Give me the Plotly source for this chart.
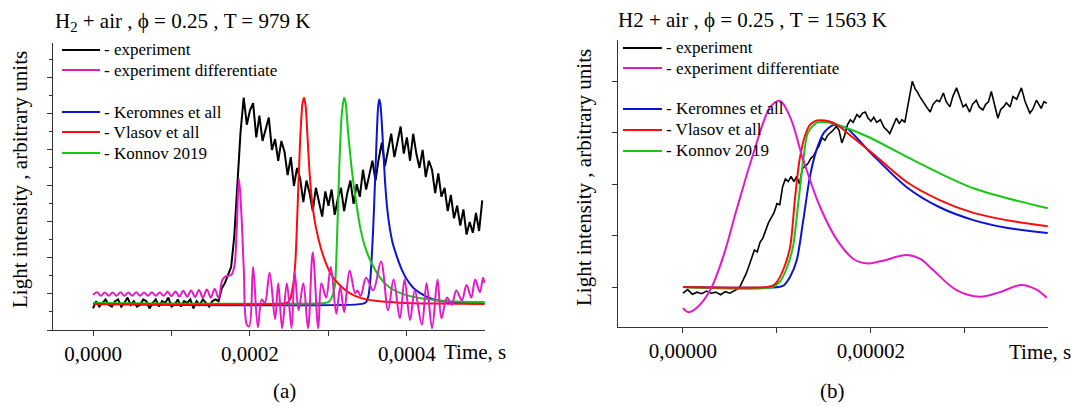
import plotly.graph_objects as go

# ---------------- data: panel (a) ----------------
# experiment (black), sampled every 4 microseconds from t = 0
exp_a_step_us = 4
exp_a = [1.2, 1.6, 1.3, 1.5, 1.7, 1.4, 1.3, 1.6, 1.7, 1.3,
         1.5, 1.8, 1.4, 1.6, 1.3, 1.4, 1.7, 1.6, 1.2, 1.5,
         1.7, 1.3, 1.6, 1.5, 1.8, 1.3, 1.4, 1.7, 1.3, 1.6,
         1.5, 1.7, 1.2, 1.6, 1.4, 1.7, 1.5, 1.3, 1.6, 1.7,
         1.6, 2.3, 2.6, 3.0, 3.5, 5.2, 8.3, 11.0, 12.9, 11.4,
         12.2, 12.6, 10.7, 11.9, 10.5, 11.2, 11.8, 10.0, 10.6, 9.4,
         10.5, 9.9, 8.6, 9.6, 8.0, 9.0, 8.4, 7.1, 8.3, 7.6,
         6.6, 7.9, 7.0, 6.3, 7.7, 6.9, 7.8, 6.4, 7.3, 7.9,
         6.6, 7.6, 8.3, 7.0, 8.1, 7.4, 8.9, 7.8, 8.6, 9.4,
         8.3, 9.5, 10.4, 9.1, 10.0, 10.9, 9.6, 10.5, 11.3, 9.8,
         10.7, 9.4, 10.9, 9.8, 9.0, 10.0, 8.5, 9.4, 8.9, 7.6,
         8.7, 7.4, 7.9, 6.6, 7.5, 6.2, 6.9, 5.8, 6.7, 5.3,
         6.0, 5.4, 6.5, 5.5, 7.2]
exp_a_t = [i * exp_a_step_us for i in range(len(exp_a))]

diff_a_t = [0, 5, 10, 15, 20, 25, 30, 35, 40, 45, 50, 55, 60, 65, 70, 75, 80, 85, 90, 95,
            100, 105, 110, 115, 120, 125, 130, 135, 140, 145, 150, 155, 160, 165, 170, 176,
            180, 183, 186, 189, 192, 196, 199, 204, 210, 215, 219, 225, 232, 236, 241, 247,
            253, 257, 262, 268, 274, 280, 287, 291, 297, 303, 310, 315, 320, 327, 334, 337,
            341, 348, 357, 367, 376, 383, 391, 397, 404, 410, 419, 425, 432, 439, 444, 451,
            457, 463, 470, 476, 482, 487, 493, 497, 499]
diff_a = [1.95, 2.1, 1.9, 2.08, 1.9, 2.08, 1.9, 2.1, 1.9, 2.08, 1.9, 2.1, 1.9, 2.08, 1.9,
          2.1, 1.9, 2.08, 1.9, 2.12, 1.88, 2.14, 1.86, 2.18, 1.85, 2.2, 1.83, 2.22, 1.8, 2.25,
          1.8, 2.28, 1.78, 2.8, 3.0, 3.05, 3.5, 5.5, 8.4, 6.5, 3.5, 0.3, 0.2, 3.5, 0.15, 1.7,
          1.5, 3.2, 0.6, 2.6, 0.1, 2.6, 0.1, 3.2, 1.1, 2.6, 0.1, 4.3, 0.1, 2.6, 1.8, 3.5, 0.9,
          2.4, 1.0, 3.3, 2.05, 2.2, 1.9, 2.9, 2.2, 3.8, 1.1, 2.8, 0.65, 2.8, 0.55, 2.2, 0.3, 2.6,
          0.1, 2.8, 0.65, 1.8, 1.4, 2.2, 1.65, 2.5, 1.8, 2.8, 2.1, 2.9, 2.6]

ker_a_t = [0, 343, 348, 351, 353, 357, 360, 363, 364.5, 366, 368, 372, 375, 378, 382, 387,
           393, 400, 408, 417, 428, 438, 455, 475, 499]
ker_a = [1.45, 1.45, 1.55, 1.9, 2.6, 5.6, 9.0, 12.2, 12.8, 12.6, 11.5, 8.3, 6.7, 5.7, 4.8,
         4.1, 3.4, 2.8, 2.35, 2.05, 1.8, 1.65, 1.55, 1.5, 1.48]

vla_a_t = [0, 240, 247, 251, 255, 258, 261, 264, 267, 269, 271, 273, 276, 280, 284, 290,
           296, 302, 308, 318, 327, 340, 360, 390, 430, 499]
vla_a = [1.45, 1.45, 1.5, 1.7, 2.5, 3.9, 7.2, 10.6, 12.6, 12.9, 12.4, 11.0, 8.7, 6.8, 5.7,
         4.6, 3.8, 3.2, 2.8, 2.35, 2.05, 1.8, 1.62, 1.52, 1.47, 1.45]

kon_a_t = [0, 295, 300, 304, 308, 311, 314, 317, 320, 322, 325, 329, 332, 336, 340, 346,
           353, 360, 366, 374, 382, 392, 404, 420, 446, 470, 499]
kon_a = [1.5, 1.5, 1.55, 1.8, 2.4, 5.2, 9.3, 12.0, 12.9, 12.6, 11.0, 9.2, 8.1, 6.9, 5.8,
         4.7, 3.9, 3.3, 2.9, 2.5, 2.25, 2.05, 1.88, 1.75, 1.62, 1.57, 1.55]

# ---------------- data: panel (b) ----------------
exp_b_t = [0, 0.5, 1, 1.5, 2, 2.5, 3, 3.5, 4, 4.5, 5, 5.5, 6, 6.3, 6.7, 7.0, 7.3, 7.6, 7.9,
           8.2, 8.5, 8.8, 9.1, 9.4, 9.7, 10.0, 10.3, 10.6, 10.9, 11.2, 11.5, 11.8, 12.1, 12.4,
           12.7, 13.0, 13.3, 13.6, 13.9, 14.2, 14.5, 14.8, 15.1, 15.4, 15.7, 16.0, 16.3, 16.6,
           16.9, 17.2, 17.5, 17.8, 18.1, 18.5, 18.8, 19.1, 19.4, 19.7, 20.0, 20.3, 20.6, 21.0,
           21.4, 21.7, 22.0, 22.4, 22.7, 23.0, 23.3, 23.6, 23.9, 24.2, 24.4, 24.7, 24.9, 25.2,
           25.6, 25.9, 26.3, 26.6, 27.0, 27.3, 27.7, 28.0, 28.4, 28.7, 29.1, 29.4, 29.8, 30.1,
           30.5, 30.8, 31.2, 31.5, 31.9, 32.2, 32.5, 32.8, 33.1, 33.5, 33.8, 34.1, 34.4, 34.8,
           35.1, 35.5, 36.0, 36.4, 36.9, 37.2, 37.6, 38.1, 38.4, 38.7]
exp_b = [-0.12, -0.05, -0.14, -0.1, -0.13, -0.08, -0.12, -0.1, -0.15, -0.09, -0.12, -0.07,
         -0.02, 0.1, 0.25, 0.4, 0.55, 0.72, 0.68, 0.87, 0.95, 1.1, 1.25, 1.35, 1.45, 1.62, 1.6,
         1.95, 2.1, 2.05, 2.15, 2.05, 2.15, 2.0, 2.3, 2.35, 2.4, 2.5, 2.55, 2.66, 2.75, 2.9,
         2.85, 2.95, 3.0, 3.05, 3.12, 3.05, 2.8, 2.95, 3.15, 3.25, 3.2, 3.35, 3.3, 3.38, 3.4,
         3.28, 3.22, 3.3, 3.2, 3.25, 3.1, 3.05, 2.98, 3.15, 3.28, 3.18, 3.25, 3.2, 3.5, 3.75,
         4.0, 3.85, 3.8, 3.7, 3.58, 3.5, 3.4, 3.55, 3.63, 3.6, 3.77, 3.6, 3.5, 3.7, 3.87, 3.7,
         3.5, 3.55, 3.4, 3.55, 3.63, 3.5, 3.44, 3.55, 3.6, 3.8, 3.6, 3.28, 3.45, 3.5, 3.58, 3.5,
         3.7, 3.65, 3.87, 3.6, 3.38, 3.45, 3.63, 3.47, 3.6, 3.57]

diff_b_t = [0, 0.6, 1.5, 2.9, 4.3, 5.7, 7.5, 9.3, 10.3, 11.4, 12.8, 14.6, 16.4, 18.1, 19.5,
            21.0, 23.8, 25.2, 26.6, 29.1, 31.6, 33.7, 36.0, 37.6, 38.7]
diff_b = [-0.41, -0.49, -0.4, -0.06, 0.6, 1.5, 2.6, 3.5, 3.62, 3.3, 2.47, 1.55, 0.91, 0.55,
          0.46, 0.5, 0.62, 0.55, 0.33, -0.06, -0.19, -0.1, 0.04, -0.05, -0.21]

ker_b_t = [0, 10.2, 10.7, 11.4, 12.1, 12.8, 13.5, 14.2, 15.0, 16.0, 16.7, 17.4, 19.9, 23.8,
           27.3, 30.9, 34.4, 38.8]
ker_b = [0, 0, 0.03, 0.2, 0.52, 1.3, 2.14, 2.66, 3.0, 3.15, 3.12, 3.09, 2.62, 1.94, 1.55,
         1.3, 1.15, 1.05]

vla_b_t = [0, 9.0, 9.6, 10.0, 10.7, 11.4, 11.9, 12.4, 13.0, 13.5, 14.0, 14.6, 15.5, 16.4,
           18.1, 19.9, 23.8, 27.3, 30.9, 34.4, 38.8]
vla_b = [0, 0, 0.03, 0.1, 0.35, 0.78, 1.69, 2.47, 2.95, 3.15, 3.22, 3.24, 3.22, 3.15, 2.9,
         2.64, 2.04, 1.69, 1.44, 1.3, 1.18]

kon_b_t = [0, 9.5, 10.3, 11.0, 11.7, 12.3, 12.8, 13.3, 14.2, 15.3, 17.1, 19.9, 23.8, 27.3,
           30.9, 34.4, 38.8]
kon_b = [0, 0, 0.1, 0.35, 0.78, 1.69, 2.47, 3.0, 3.19, 3.2, 3.11, 2.9, 2.53, 2.21, 1.92,
         1.73, 1.53]

# ---------------- labels ----------------
names = ["- experiment", "- experiment differentiate", "- Keromnes et all",
         "- Vlasov et all", "- Konnov 2019"]
xticks_a = [0, 200, 400]
xticktext_a = ["0,0000", "0,0002", "0,0004"]
xminor_a = [100, 300]
xticks_b = [0, 20]
xticktext_b = ["0,00000", "0,00002"]
xminor_b = [10, 30]

BLACK = "#000000"
MAGENTA = "#e619c8"
BLUE = "#0a14d2"
RED = "#ff0a0a"
GREEN = "#14c814"
colors = [BLACK, MAGENTA, BLUE, RED, GREEN]
FONT = "Liberation Serif"

W, H = 1071, 406

fig = go.Figure()


def add(x, y, color, width, xa, ya, shape="linear", smooth=None):
    line = dict(color=color, width=width, shape=shape)
    if smooth is not None:
        line["smoothing"] = smooth
    fig.add_trace(go.Scatter(x=x, y=y, mode="lines", line=line, xaxis=xa, yaxis=ya,
                             showlegend=False, hoverinfo="skip"))


# panel (a)
add(exp_a_t, exp_a, BLACK, 2.0, "x", "y")
add(ker_a_t, ker_a, BLUE, 2, "x", "y", "spline", 0.7)
add(kon_a_t, kon_a, GREEN, 2, "x", "y", "spline", 0.7)
add(vla_a_t, vla_a, RED, 2, "x", "y", "spline", 0.7)
add(diff_a_t, diff_a, MAGENTA, 2, "x", "y", "spline", 1.0)

# panel (b)
add(exp_b_t, exp_b, BLACK, 1.6, "x2", "y2")
add(ker_b_t, ker_b, BLUE, 2, "x2", "y2", "spline", 0.8)
add(kon_b_t, kon_b, GREEN, 2, "x2", "y2", "spline", 0.8)
add(vla_b_t, vla_b, RED, 2, "x2", "y2", "spline", 0.8)
add(diff_b_t, diff_b, MAGENTA, 2, "x2", "y2", "spline", 1.0)

axis_line = dict(showline=True, linecolor="#333333", linewidth=1.3, showgrid=False,
                 zeroline=False, ticks="outside", tickcolor="#333333", tickwidth=1,
                 ticklen=5)
tickfont = dict(family=FONT, size=21, color="black")

fig.update_layout(
    width=W, height=H,
    margin=dict(l=0, r=0, t=0, b=0),
    paper_bgcolor="white", plot_bgcolor="white",
    font=dict(family=FONT, size=21, color="black"),
    showlegend=False,
    xaxis=dict(domain=[53 / W, 485 / W], range=[-51, 499.5], anchor="y",
               tickmode="array", tickvals=xticks_a, ticktext=xticktext_a, tickfont=tickfont,
               minor=dict(tickmode="array", tickvals=xminor_a, ticks="outside", ticklen=5,
                          tickcolor="#333333"),
               **axis_line),
    yaxis=dict(domain=[76 / H, 363 / H], range=[0, 15.94], anchor="x",
               tickmode="linear", tick0=0, dtick=2, showticklabels=False,
               minor=dict(dtick=1, ticklen=3, ticks="outside", tickcolor="#333333"),
               **axis_line),
    xaxis2=dict(domain=[618 / W, 1048 / W], range=[-6.91, 38.83], anchor="y2",
                tickmode="array", tickvals=xticks_b, ticktext=xticktext_b, tickfont=tickfont,
                minor=dict(tickmode="array", tickvals=xminor_b, ticks="outside", ticklen=5,
                           tickcolor="#333333"),
                **axis_line),
    yaxis2=dict(domain=[79 / H, 366 / H], range=[-0.777, 4.80], anchor="x2",
                tickmode="linear", tick0=0, dtick=1, showticklabels=False,
                **axis_line),
)


def ann(text, x, y, xanchor="center", angle=0, size=21, yanchor="middle"):
    fig.add_annotation(text=text, x=x / W, y=1 - y / H, xref="paper", yref="paper",
                       xanchor=xanchor, yanchor=yanchor, textangle=angle, showarrow=False,
                       font=dict(family=FONT, size=size, color="black"))


# manual legends (line sample + label), same layout as the reference
legend_rows_a = [50, 70, 112, 132, 153]
legend_rows_b = [48, 68, 109, 130, 151]
for (x0, x1, xt), rows in (((62, 100, 102), legend_rows_a), ((623, 662, 664), legend_rows_b)):
    for name, col, ry in zip(names, colors, rows):
        fig.add_shape(type="line", xref="paper", yref="paper", x0=x0 / W, x1=x1 / W,
                      y0=1 - ry / H, y1=1 - ry / H, line=dict(color=col, width=2))
        ann(name, xt, ry, "left", size=17)

ann("H<sub>2</sub> + air , ϕ = 0.25 , T = 979 K", 53, 22, "left")
ann("H2 + air , ϕ = 0.25 , T = 1563 K", 616, 20, "left")
ann("Light intensity , arbitrary units", 20, 180, "center", -90)
ann("Light intensity , arbitrary units", 584, 178, "center", -90)
ann("Time, s", 442, 352, "left")
ann("Time, s", 1007, 352, "left")
ann("(a)", 284, 405, yanchor="bottom")
ann("(b)", 832, 405, yanchor="bottom")

fig.write_html("out.html")
